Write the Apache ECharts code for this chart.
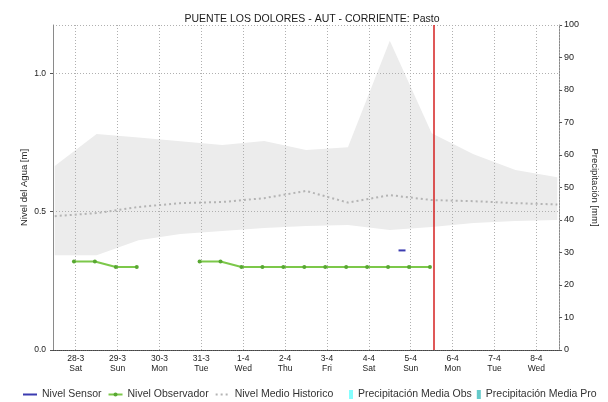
<!DOCTYPE html>
<html>
<head>
<meta charset="utf-8">
<script src="https://cdn.jsdelivr.net/npm/echarts@6/dist/echarts.min.js"></script>
<style>
  html, body { margin: 0; padding: 0; background: #ffffff; }
  #chart { width: 608px; height: 402px; }
</style>
</head>
<body>
<div id="chart"></div>
<script>
// Station hydrograph: observed / sensor water level against the historical band.
const chartTitle = 'PUENTE LOS DOLORES - AUT - CORRIENTE: Pasto';
const weekdayNames = ['Sun', 'Mon', 'Tue', 'Wed', 'Thu', 'Fri', 'Sat'];
const axisStart = '2020-03-27 11:00';
const axisEnd = '2020-04-08 13:00';
const nowTime = '2020-04-05 13:00';

// Historical statistics (daily, noon)
const histTimes = [
  '2020-03-27 12:00', '2020-03-28 12:00', '2020-03-29 12:00', '2020-03-30 12:00',
  '2020-03-31 12:00', '2020-04-01 12:00', '2020-04-02 12:00', '2020-04-03 12:00',
  '2020-04-04 12:00', '2020-04-05 12:00', '2020-04-06 12:00', '2020-04-07 12:00',
  '2020-04-08 12:00'
];
const histLow  = [0.343, 0.343, 0.397, 0.419, 0.430, 0.441, 0.448, 0.452, 0.434, 0.445, 0.459, 0.466, 0.470];
const histHigh = [0.665, 0.781, 0.768, 0.755, 0.741, 0.756, 0.723, 0.733, 1.118, 0.784, 0.708, 0.651, 0.625];
const histMean = [0.484, 0.495, 0.517, 0.531, 0.535, 0.549, 0.575, 0.533, 0.560, 0.542, 0.538, 0.531, 0.526];

// Observer readings (null = no reading)
const obsTimes = [
  '2020-03-27 23:00', '2020-03-28 11:00', '2020-03-28 23:00', '2020-03-29 11:00',
  '2020-03-29 23:00', '2020-03-30 11:00',
  '2020-03-30 23:00', '2020-03-31 11:00', '2020-03-31 23:00', '2020-04-01 11:00',
  '2020-04-01 23:00', '2020-04-02 11:00', '2020-04-02 23:00', '2020-04-03 11:00',
  '2020-04-03 23:00', '2020-04-04 11:00', '2020-04-04 23:00', '2020-04-05 11:00'
];
const obsValues = [
  0.32, 0.32, 0.30, 0.30,
  null, null,
  0.32, 0.32, 0.30, 0.30,
  0.30, 0.30, 0.30, 0.30,
  0.30, 0.30, 0.30, 0.30
];

// Sensor readings
const sensorTimes = ['2020-04-04 17:00', '2020-04-04 21:00'];
const sensorValues = [0.36, 0.36];

// Precipitation (no values in this period)
const precipObsTimes = [];
const precipObsValues = [];
const precipProTimes = [];
const precipProValues = [];

const levelTicks = { min: 0, max: 1.175, step: 0.5 };
const precipTicks = { min: 0, max: 100, step: 10 };

const ts = s => echarts.time.parse(s).getTime();
const pairs = (times, vals) => times.map((t, i) => [ts(t), vals[i]]);

const FONT = 'Liberation Sans, Arial, sans-serif';
const chart = echarts.init(document.getElementById('chart'), null, { renderer: 'canvas' });

chart.setOption({
  animation: false,
  backgroundColor: '#ffffff',
  title: {
    text: chartTitle,
    left: 307, top: 9, textAlign: 'center',
    textStyle: { fontFamily: FONT, fontSize: 10.5, fontWeight: 'normal', color: '#1a1a1a' }
  },
  legend: [
    {
      data: [
        { name: 'Nivel Sensor', itemStyle: { opacity: 0 } },
        { name: 'Nivel Observador' },
        { name: 'Nivel Medio Historico', itemStyle: { opacity: 0 } }
      ],
      left: 22, top: 389, itemWidth: 14, itemHeight: 5, itemGap: 6,
      padding: 0, width: 330,
      textStyle: { fontFamily: FONT, fontSize: 10.5, color: '#333' }
    },
    {
      data: [
        { name: 'Precipitación Media Obs', icon: 'rect' },
        { name: 'Precipitación Media Pro', icon: 'rect' }
      ],
      left: 349, top: 389, itemWidth: 4, itemHeight: 9, itemGap: 5,
      padding: 0, width: 300,
      textStyle: { fontFamily: FONT, fontSize: 10.5, color: '#333' }
    }
  ],
  grid: { left: 53, right: 48, top: 25, bottom: 52 },
  xAxis: [
    {
      type: 'time',
      min: ts(axisStart), max: ts(axisEnd),
      minInterval: 86400000, maxInterval: 86400000,
      z: 2,
      axisLine: { show: true, lineStyle: { color: '#444', width: 1, type: [1, 1] } },
      axisTick: { show: false },
      splitLine: { show: true, lineStyle: { color: '#b0b0b0', width: 1, type: [1, 2] } },
      axisLabel: {
        fontFamily: FONT, fontSize: 8.5, color: '#222', margin: 4, lineHeight: 9.5,
        hideOverlap: false,
        formatter: function (value) {
          const d = new Date(value);
          if (d.getHours() !== 0 || d.getMinutes() !== 0) return '';
          return d.getDate() + '-' + (d.getMonth() + 1) + '\n' + weekdayNames[d.getDay()];
        }
      }
    },
    {
      type: 'value', position: 'top', min: 0, max: 1,
      axisLine: { show: true, lineStyle: { color: '#8a8a8a', width: 1 } },
      axisTick: { show: false }, axisLabel: { show: false }, splitLine: { show: false }
    }
  ],
  yAxis: [
    {
      type: 'value', position: 'left',
      min: levelTicks.min, max: levelTicks.max, interval: levelTicks.step,
      z: 2,
      name: 'Nivel del Agua [m]', nameLocation: 'middle', nameGap: 24, nameMoveOverlap: false,
      nameTextStyle: { fontFamily: FONT, fontSize: 9.5, color: '#222' },
      axisLine: { show: true, lineStyle: { color: '#8a8a8a', width: 1 } },
      axisTick: { show: true, length: 3, lineStyle: { color: '#555' } },
      axisLabel: {
        fontFamily: FONT, fontSize: 8.5, color: '#222', margin: 7,
        showMaxLabel: false,
        formatter: v => (v > 1.1 ? '' : v.toFixed(1))
      },
      splitLine: { show: true, lineStyle: { color: '#b0b0b0', width: 1, type: [1, 2] } }
    },
    {
      type: 'value', position: 'right',
      min: precipTicks.min, max: precipTicks.max, interval: precipTicks.step,
      name: 'Precipitación [mm]', nameLocation: 'middle', nameGap: 28, nameRotate: -90,
      nameTextStyle: { fontFamily: FONT, fontSize: 9.5, color: '#222' },
      axisLine: { show: true, lineStyle: { color: '#8a8a8a', width: 1 } },
      axisTick: { show: true, length: 3, lineStyle: { color: '#555' } },
      axisLabel: { fontFamily: FONT, fontSize: 9, color: '#222', margin: 5 },
      splitLine: { show: false }
    }
  ],
  series: [
    {
      name: 'histLowBound', type: 'line', stack: 'hist', z: 1,
      data: pairs(histTimes, histLow),
      symbol: 'none', silent: true,
      lineStyle: { opacity: 0 }
    },
    {
      name: 'histRange', type: 'line', stack: 'hist', z: 1,
      data: pairs(histTimes, histHigh.map((h, i) => h - histLow[i])),
      symbol: 'none', silent: true,
      lineStyle: { opacity: 0 },
      areaStyle: { color: '#ececec', opacity: 1 }
    },
    {
      name: 'Nivel Medio Historico', type: 'line', z: 3,
      data: pairs(histTimes, histMean),
      symbol: 'none',
      itemStyle: { color: '#b4b4b4' },
      lineStyle: { color: '#b4b4b4', width: 2, type: [2, 3] }
    },
    {
      name: 'Nivel Observador', type: 'line', z: 4,
      data: pairs(obsTimes, obsValues),
      symbol: 'circle', symbolSize: 4, connectNulls: false,
      itemStyle: { color: '#58a832' },
      lineStyle: { color: '#7cc84a', width: 2 }
    },
    {
      name: 'Nivel Sensor', type: 'line', z: 5,
      data: pairs(sensorTimes, sensorValues),
      symbol: 'none',
      itemStyle: { color: '#1f2a80' },
      lineStyle: { color: '#3b3bb0', width: 2 },
      markLine: {
        silent: true, symbol: 'none', animation: false,
        label: { show: false },
        lineStyle: { color: '#d42020', width: 1.5, type: 'solid' },
        data: [{ xAxis: ts(nowTime) }]
      }
    },
    {
      name: 'Precipitación Media Obs', type: 'scatter', yAxisIndex: 1,
      data: pairs(precipObsTimes, precipObsValues),
      itemStyle: { color: '#66ffff' }
    },
    {
      name: 'Precipitación Media Pro', type: 'scatter', yAxisIndex: 1,
      data: pairs(precipProTimes, precipProValues),
      itemStyle: { color: '#3dbdbd' }
    }
  ]
});
</script>
</body>
</html>
